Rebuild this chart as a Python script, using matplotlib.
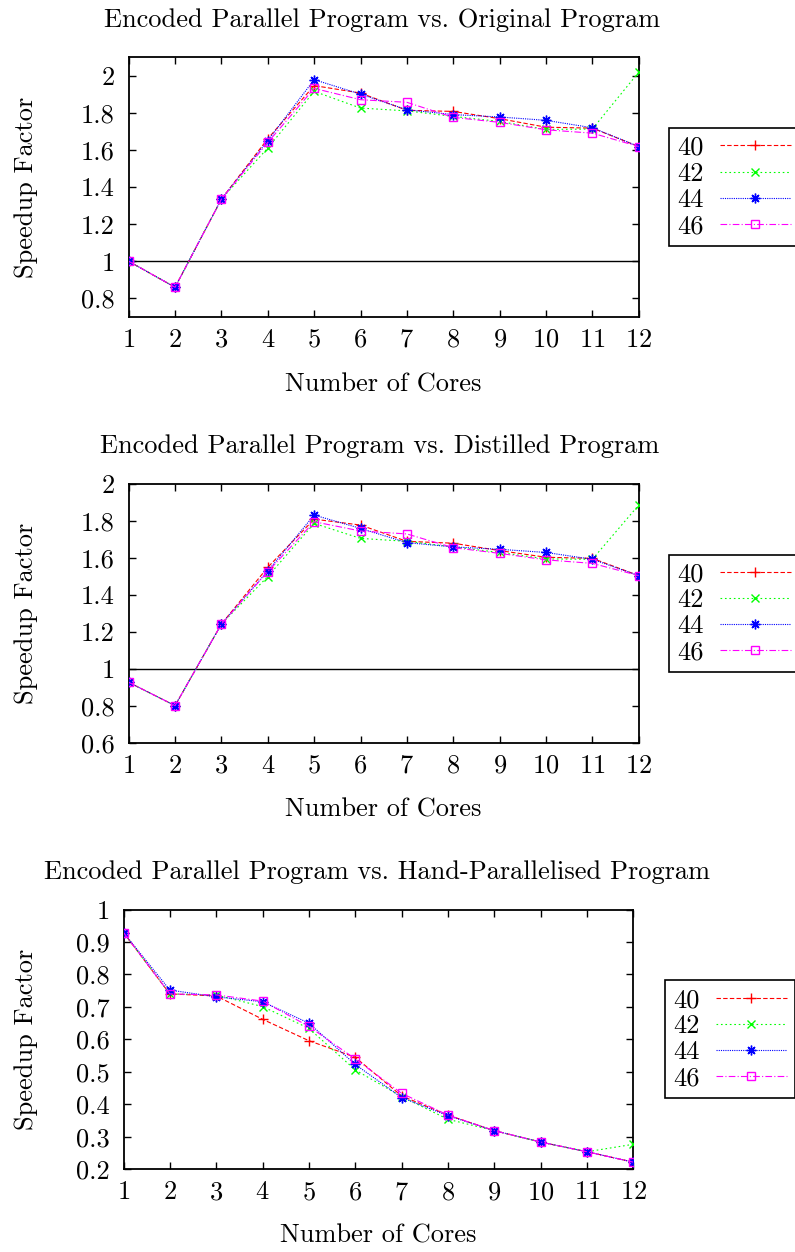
import matplotlib
matplotlib.use("Agg")
import matplotlib.pyplot as plt
from matplotlib.ticker import FuncFormatter

plt.rcParams["font.family"] = ["cmr10", "DejaVu Serif"]
plt.rcParams["mathtext.fontset"] = "cm"
plt.rcParams["axes.formatter.use_mathtext"] = True
plt.rcParams["font.size"] = 19

# Datos
cores = [1, 2, 3, 4, 5, 6, 7, 8, 9, 10, 11, 12]
series = ["40", "42", "44", "46"]

orig_40 = [1.0, 0.86, 1.335, 1.66, 1.946, 1.906, 1.813, 1.807, 1.768, 1.722, 1.717, 1.618]
orig_42 = [1.0, 0.86, 1.335, 1.61, 1.915, 1.825, 1.81, 1.78, 1.753, 1.71, 1.712, 2.018]
orig_44 = [1.0, 0.86, 1.335, 1.65, 1.978, 1.90, 1.816, 1.79, 1.777, 1.759, 1.719, 1.618]
orig_46 = [1.0, 0.86, 1.335, 1.64, 1.931, 1.87, 1.856, 1.775, 1.748, 1.708, 1.69, 1.618]

dist_40 = [0.928, 0.802, 1.243, 1.55, 1.81, 1.778, 1.69, 1.68, 1.64, 1.604, 1.598, 1.505]
dist_42 = [0.928, 0.802, 1.243, 1.50, 1.787, 1.706, 1.69, 1.66, 1.63, 1.595, 1.593, 1.886]
dist_44 = [0.928, 0.802, 1.243, 1.53, 1.832, 1.76, 1.683, 1.66, 1.647, 1.63, 1.593, 1.505]
dist_46 = [0.928, 0.802, 1.243, 1.526, 1.796, 1.746, 1.73, 1.656, 1.625, 1.59, 1.571, 1.505]

hand_40 = [0.929, 0.74, 0.734, 0.662, 0.596, 0.545, 0.426, 0.367, 0.319, 0.284, 0.254, 0.222]
hand_42 = [0.929, 0.74, 0.737, 0.701, 0.634, 0.506, 0.424, 0.354, 0.319, 0.284, 0.254, 0.277]
hand_44 = [0.929, 0.752, 0.731, 0.716, 0.65, 0.523, 0.421, 0.365, 0.319, 0.284, 0.254, 0.222]
hand_46 = [0.929, 0.74, 0.737, 0.718, 0.64, 0.54, 0.434, 0.367, 0.319, 0.284, 0.254, 0.222]

titles = ["Encoded Parallel Program vs. Original Program",
          "Encoded Parallel Program vs. Distilled Program",
          "Encoded Parallel Program vs. Hand-Parallelised Program"]

colors = ["#ff0000", "#00ff00", "#0000ff", "#ff00ff"]
markers = ["+", "x", (8, 2, 0), "s"]
msizes = [7, 6, 7, 5.5]
dashes = [(4, 2), (1.5, 2.5), (1, 1), (6, 2, 1, 2)]

fig = plt.figure(figsize=(7.95, 12.52), dpi=100)

W, H = 795.0, 1252.0
# (left, top, right, bottom) en pixeles
boxes = [(128.7, 57, 638.7, 317), (128.7, 484, 638.7, 743), (123.5, 909.5, 633.3, 1169.3)]
ylims = [(0.7, 2.1), (0.6, 2.0), (0.2, 1.0)]
yticks = [[0.8, 1.0, 1.2, 1.4, 1.6, 1.8, 2.0],
          [0.6, 0.8, 1.0, 1.2, 1.4, 1.6, 1.8, 2.0],
          [0.2, 0.3, 0.4, 0.5, 0.6, 0.7, 0.8, 0.9, 1.0]]
legx = [669.3, 669.3, 665.3]
title_y = [20, 446, 872]
title_x = [382, 380, 377]
xlab_y = [385, 810, 1236]
xlab_x = [383, 383, 378]

datasets = [[orig_40, orig_42, orig_44, orig_46],
            [dist_40, dist_42, dist_44, dist_46],
            [hand_40, hand_42, hand_44, hand_46]]

for i in range(3):
    l, t, r, b = boxes[i]
    ax = fig.add_axes([l / W, 1 - b / H, (r - l) / W, (b - t) / H])
    if i < 2:
        ax.axhline(1.0, color="black", lw=1.0, zorder=1)
    for j in range(4):
        ax.plot(cores, datasets[i][j], color=colors[j], lw=0.8, dashes=dashes[j],
                marker=markers[j], markersize=msizes[j], mew=1.0, mfc="none",
                label=series[j], zorder=2 + j)
    ax.set_xlim(1, 12)
    ax.set_ylim(*ylims[i])
    ax.set_xticks(cores)
    ax.set_yticks(yticks[i])
    ax.yaxis.set_major_formatter(FuncFormatter(lambda v, p: "%g" % round(v, 2)))
    ax.tick_params(direction="in", top=True, right=True, length=5, width=1)
    ax.tick_params(axis="x", pad=8)
    ax.tick_params(axis="y", pad=10)
    for s in ax.spines.values():
        s.set_linewidth(1.3)
    ax.set_ylabel("Speedup Factor")
    ax.yaxis.set_label_coords((38 - l) / (r - l), 0.5)
    leg = ax.legend(loc="center left", bbox_to_anchor=((legx[i] - l) / (r - l), 0.5),
                    borderaxespad=0, markerfirst=False, handlelength=2.7, numpoints=1,
                    fancybox=False, framealpha=1, edgecolor="black", labelspacing=0.09,
                    handletextpad=0.6, borderpad=0.3)
    leg.get_frame().set_linewidth(1.2)
    fig.text(title_x[i] / W, 1 - title_y[i] / H, titles[i], ha="center", va="center")
    fig.text(xlab_x[i] / W, 1 - xlab_y[i] / H, "Number of Cores", ha="center", va="center")

plt.savefig("out.png", dpi=100)
